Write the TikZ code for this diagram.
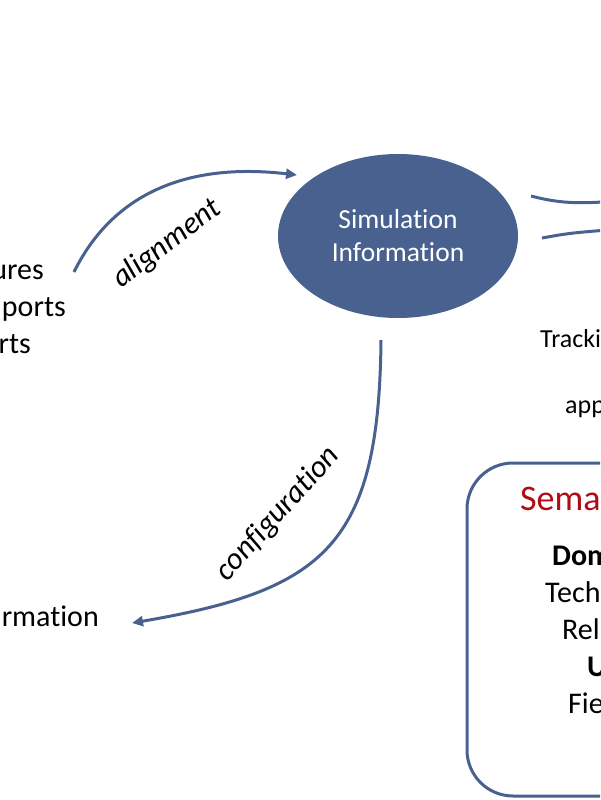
\documentclass[tikz,border=0pt]{standalone}
\usepackage{fontspec}
\setmainfont{Carlito}[Ligatures=NoCommon]
\usetikzlibrary{shapes.geometric,arrows.meta}
\definecolor{sblue}{RGB}{72,97,143}
\definecolor{sred}{RGB}{175,12,20}
\newcommand{\fsz}[1]{\fontsize{#1}{#1}\selectfont}
\begin{document}
\begin{tikzpicture}[x=1pt,y=-1pt,
  conn/.style={draw=sblue, line width=3pt},
  arr/.style={conn, -{Triangle[length=11pt,width=10pt]}},
  body/.style={inner sep=0pt, font=\fsz{30}, text=black},
  lbl/.style={inner sep=0pt, font=\fsz{31}\itshape, text=black},
  boxtxt/.style={inner sep=0pt, anchor=base west, font=\fsz{30}, text=black}
]
\useasboundingbox (0,0) rectangle (600,800);
\clip (0,0) rectangle (600,800);

% ellipse
\node[ellipse, fill=sblue, minimum width=240pt, minimum height=164pt, inner sep=0pt,
      text=white, align=center, font=\fontsize{27.5}{33}\selectfont] (sim) at (398,236) {Simulation\\Information};

% left list (cut off)
\node[body, anchor=base east] (l1) at (44,279) {ures};
\node[body, anchor=base east] (l2) at (66,316) {ports};
\node[body, anchor=base east] (l3) at (31,353) {rts};
\node[body, anchor=base east] (cfg) at (99,626) {rmation};

% alignment arrow
\coordinate (a1) at (74,272);
\coordinate (a2) at (297,175);
\draw[arr] (a1) .. controls (112,195) and (185,162) .. (a2);
\node[lbl, rotate=37] (alab) at (167,244) {alignment};

% configuration arrow
\coordinate (c1) at (381,340);
\coordinate (c2) at (132,623);
\draw[arr] (c1) .. controls (379,545) and (325,590) .. (c2);
\node[lbl, rotate=48] (clab) at (278,514) {configuration};

% lines to the right
\coordinate (r1a) at (531,196);
\coordinate (r1b) at (620,201);
\coordinate (r2a) at (542,238);
\coordinate (r2b) at (620,229);
\draw[conn] (r1a) .. controls (565,205) and (585,203) .. (r1b);
\draw[conn] (r2a) .. controls (570,233) .. (r2b);

% right texts
\node[body, anchor=base west, font=\fsz{26}] (trk) at (540,347) {Tracki};
\node[body, anchor=base west, font=\fsz{26}] (app) at (565,413) {appl};

% semantic box
\draw[conn, rounded corners=46pt] (467,463) rectangle (720,796);
\node[boxtxt, font=\fsz{36}, text=sred] (sem) at (520,510) {Seman};
\node[boxtxt, font=\fsz{30}\bfseries] (dom) at (552,565) {Dom};
\node[boxtxt] (tech) at (545,602) {Techn};
\node[boxtxt] (rel) at (562,639) {Rela};
\node[boxtxt, font=\fsz{30}\bfseries] (u) at (587,676) {U};
\node[boxtxt] (fie) at (568,713) {Fiel};
\end{tikzpicture}
\end{document}
